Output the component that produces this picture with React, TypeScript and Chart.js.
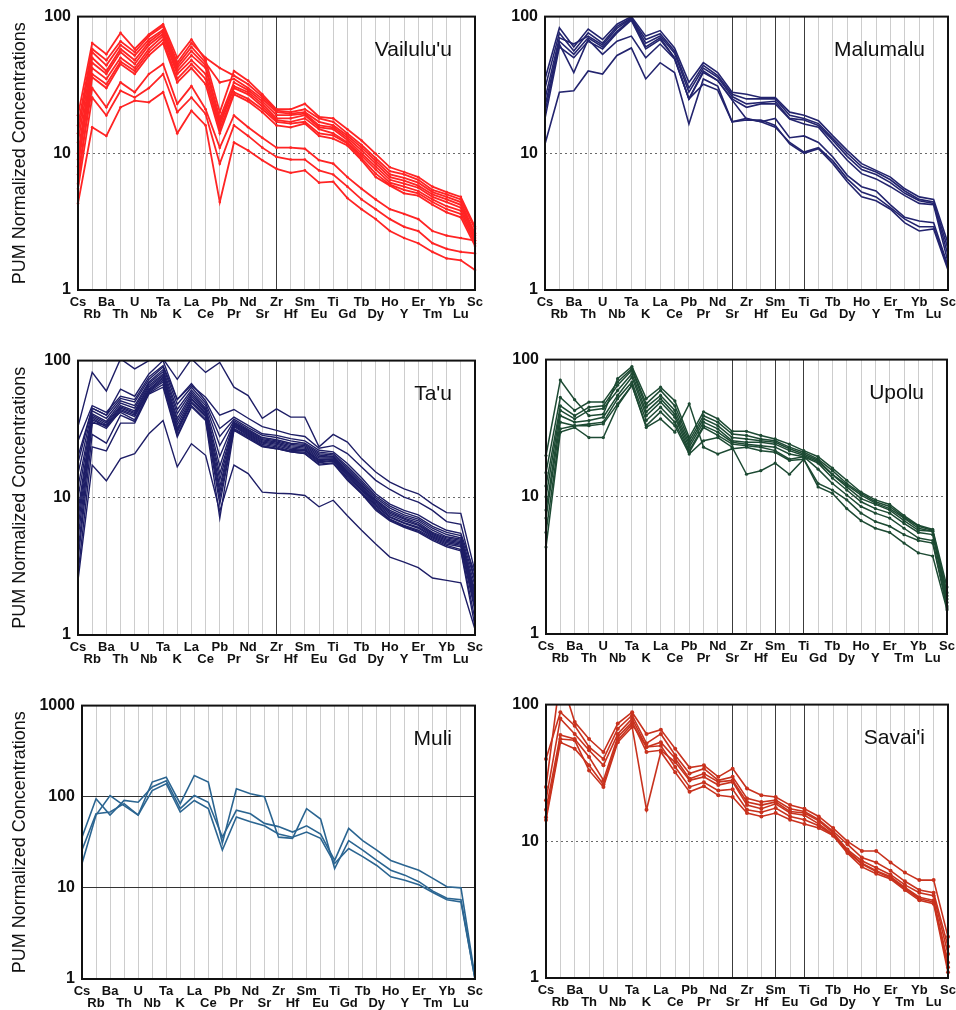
import React, { useEffect, useRef } from 'react';
import { Chart, registerables } from 'chart.js';
Chart.register(...registerables);

// ---------- categories ----------
const ELEMENTS = ['Cs','Rb','Ba','Th','U','Nb','Ta','K','La','Ce','Pb','Pr','Nd','Sr','Zr','Hf','Sm','Eu','Ti','Gd','Tb','Dy','Ho','Y','Er','Tm','Yb','Lu','Sc'];
const TICKS_100 = [1, 10, 100];
const TICKS_1000 = [1, 10, 100, 1000];
const Y_TITLE = 'PUM Normalized Concentrations';

// ---------- Vailulu'u ----------
const VAI_1 = [19, 64, 53, 76, 58, 74, 88, 50, 68, 48, 20, 40, 34, 27, 21, 21, 23, 18.5, 18, 15, 12.4, 9.9, 7.9, 7.3, 6.7, 5.7, 5.2, 4.8, 2.9];
const VAI_2 = [16, 58, 48, 66, 55, 72, 85, 46, 64, 50, 42, 37, 32, 26, 20.5, 20, 21, 18, 17, 14, 11.5, 9.2, 7.4, 7.0, 6.4, 5.4, 5.0, 4.6, 2.8];
const VAI_3 = [14, 55, 44, 62, 52, 68, 80, 44, 60, 46, 33, 35, 30, 25, 20, 19.5, 20, 17, 16, 13.5, 11, 8.8, 7.0, 6.6, 6.1, 5.2, 4.8, 4.4, 2.6];
const VAI_4 = [12, 50, 40, 58, 48, 65, 78, 42, 56, 44, 18, 33, 29, 24, 19, 19, 19.5, 16, 15.5, 13, 10.5, 8.4, 6.7, 6.3, 5.8, 5.0, 4.6, 4.2, 2.5];
const VAI_5 = [10, 46, 38, 55, 45, 62, 75, 40, 52, 42, 17, 31, 28, 23, 18, 18, 19, 15.5, 15, 12.5, 10, 8.0, 6.4, 6.0, 5.6, 4.8, 4.4, 4.0, 2.4];
const VAI_6 = [9, 42, 35, 50, 42, 58, 72, 38, 48, 38, 16, 30, 27, 22, 17.5, 17, 18, 15, 14, 12, 9.6, 7.6, 6.1, 5.7, 5.3, 4.6, 4.1, 3.8, 2.3];
const VAI_7 = [8, 38, 32, 47, 40, 55, 68, 35, 45, 35, 15, 28, 25, 21, 17, 16.5, 17, 14, 13.5, 11.8, 9.2, 7.1, 5.9, 5.4, 5.1, 4.4, 3.9, 3.6, 2.2];
const VAI_8 = [6, 36, 30, 45, 38, 52, 64, 33, 42, 32, 14, 27, 24, 20, 16, 15.5, 16.5, 13.4, 12.8, 11.4, 8.9, 6.7, 5.8, 5.1, 4.9, 4.2, 3.7, 3.4, 2.1];
const VAI_9 = [7, 30, 21.7, 33, 28, 38, 45, 23, 31, 21, 11, 18.9, 15.5, 13, 11, 11, 10.8, 8.9, 8.4, 6.7, 5.5, 4.6, 3.9, 3.6, 3.3, 2.7, 2.5, 2.4, 2.3];
const VAI_10 = [5.5, 25.6, 18.9, 28.7, 25.6, 30, 38, 20, 25.6, 19.4, 8.4, 16, 13.4, 11, 9.4, 9, 9, 7.5, 7, 5.7, 4.6, 3.9, 3.3, 2.9, 2.7, 2.2, 2.0, 1.9, 1.85];
const VAI_11 = [4.3, 15.5, 13.4, 21.7, 24.3, 23.6, 28, 14, 20.5, 16, 4.4, 12, 10.5, 8.9, 7.7, 7.2, 7.5, 6.1, 6.2, 4.7, 3.9, 3.3, 2.7, 2.4, 2.2, 1.9, 1.7, 1.65, 1.4];

// ---------- Malumalu ----------
const MAL_1 = [35, 83, 60, 81, 68, 88, 100, 72, 79, 59, 33, 46, 39, 28, 27, 25.6, 25.6, 20, 19, 17.3, 13.4, 10.5, 8.4, 7.5, 6.7, 5.5, 4.8, 4.6, 2.2];
const MAL_2 = [30, 76, 56, 76, 64, 85, 98, 68, 75, 56, 30, 44, 37, 27, 25, 25, 25, 19, 18, 16.5, 12.8, 10, 8, 7.3, 6.4, 5.3, 4.6, 4.4, 2.0];
const MAL_3 = [25, 70, 63, 72, 62, 82, 97, 64, 72, 54, 28, 42, 36, 26, 23, 23.5, 24, 18, 17.5, 16, 12.4, 9.5, 7.6, 7.0, 6.1, 5.1, 4.5, 4.3, 1.8];
const MAL_4 = [22, 66, 53, 70, 60, 78, 96, 60, 70, 50, 25, 40, 34, 25, 21.7, 23, 23, 17.8, 16.4, 15.5, 11.7, 8.9, 7.1, 6.5, 5.7, 4.9, 4.3, 4.2, 1.6];
const MAL_5 = [20, 63, 39, 68, 53, 66, 72, 50, 63, 49, 25, 39, 34, 24.5, 17.8, 17, 18, 13, 13.4, 12, 9.4, 6.9, 5.7, 5.3, 4.2, 3.4, 3.2, 3.1, 1.5];
const MAL_6 = [18, 60, 50, 66, 58, 76, 94, 58, 68, 50, 25, 32, 29, 17, 17.5, 17.5, 16, 11.7, 10, 10.8, 8.4, 6.2, 4.8, 4.5, 3.9, 3.1, 2.7, 2.8, 1.4];
const MAL_7 = [11.7, 28, 28.7, 40, 38, 52, 59, 35, 46, 39, 16.4, 35, 31, 17, 18, 17, 15.5, 12, 10.2, 11, 8.8, 6.5, 5.2, 4.8, 4.0, 3.3, 2.9, 2.9, 1.45];

// ---------- Ta'u ----------
const TAU_1 = [26, 47, 42, 55, 52, 76, 92, 52, 68, 51, 32, 38.7, 33.7, 29.3, 28.5, 27, 26, 22.2, 21.6, 17.8, 14, 10.7, 9, 8.1, 7.5, 6.5, 5.8, 5.5, 2.8];
const TAU_2 = [20, 45, 40, 53, 50, 73, 90, 48, 64, 49, 28, 37.5, 32.5, 28.5, 27.5, 26, 25, 21.5, 21, 17, 13.4, 10.3, 8.7, 7.8, 7.2, 6.2, 5.6, 5.3, 2.5];
const TAU_3 = [15, 43, 38, 51, 47, 70, 86, 44, 61, 47, 24, 36.5, 31.5, 27.5, 26.5, 25, 24.5, 21, 20.5, 16.5, 13, 10, 8.4, 7.5, 7, 6.0, 5.4, 5.1, 2.3];
const TAU_4 = [12, 41, 36, 49, 45, 68, 83, 41, 59, 45, 20, 35.5, 31, 27, 26, 24.5, 24, 20.5, 20, 16, 12.6, 9.7, 8.1, 7.3, 6.8, 5.8, 5.2, 5.0, 2.1];
const TAU_5 = [10, 40, 35, 47, 43, 66, 80, 38, 57, 44, 17, 35, 30.5, 26.5, 25.5, 24, 23.5, 20, 19.8, 15.6, 12.3, 9.5, 7.9, 7.1, 6.6, 5.6, 5.1, 4.9, 2.0];
const TAU_6 = [8, 39, 34, 46, 42, 64, 78, 36, 55, 43, 15, 34.5, 30, 26, 25, 23.5, 23, 19.5, 19.5, 15.3, 12, 9.3, 7.7, 7.0, 6.4, 5.5, 5.0, 4.8, 1.9];
const TAU_7 = [7, 38, 33, 45, 41, 62, 76, 34, 53, 42, 13.5, 34, 29.5, 25.5, 24.5, 23, 22.5, 19, 19.2, 15, 11.8, 9.1, 7.5, 6.8, 6.3, 5.4, 4.9, 4.7, 1.8];
const TAU_8 = [6, 37, 33, 44, 40, 61, 74, 32, 52, 41, 12, 33.5, 29, 25, 24, 22.5, 22.2, 18.7, 19, 14.7, 11.5, 8.9, 7.3, 6.6, 6.1, 5.3, 4.8, 4.6, 1.7];
const TAU_9 = [5, 36, 32, 43, 39, 60, 72, 31, 50, 40, 11, 33, 28.5, 24.5, 23.5, 22, 22, 18.3, 18.7, 14.4, 11.3, 8.7, 7.2, 6.5, 6.0, 5.2, 4.7, 4.5, 1.6];
const TAU_10 = [4, 35, 34, 42, 37, 59, 70, 30, 49, 39, 10, 32, 28, 24, 23, 21.8, 21.5, 18, 18.5, 14, 11, 8.5, 7.0, 6.3, 5.8, 5.1, 4.6, 4.4, 1.5];
const TAU_11 = [3.5, 29, 25, 40, 36, 58, 67, 28.5, 47, 37.5, 9, 31.5, 27.5, 23.8, 22.8, 21.6, 21, 17.6, 18, 13.7, 10.8, 8.3, 6.9, 6.2, 5.7, 5.0, 4.5, 4.2, 1.3];
const TAU_12 = [2.8, 23.5, 22, 35, 35, 57, 64, 27.7, 46, 36.6, 7.1, 31, 27, 23.5, 22.8, 21.6, 21, 17.3, 17.8, 13.4, 10.7, 8.1, 6.8, 6.1, 5.6, 4.9, 4.4, 4.1, 1.15];
const TAU_13 = [33, 82, 60, 103, 87, 100, 103, 73, 103, 82, 97, 64, 55.6, 38, 44.5, 38.7, 38.7, 23.5, 29, 25.5, 19.3, 15.4, 13, 11.6, 10.7, 9, 7.8, 7.7, 2.9];
const TAU_14 = [18, 45, 40, 62, 55, 80, 100, 52, 66, 54, 40, 44, 38, 33, 31, 29, 28, 23, 24, 21, 16.8, 13.4, 11.5, 10.1, 9.3, 8.1, 6.7, 6.4, 2.5];
const TAU_15 = [2.5, 17.3, 13.3, 19.3, 21, 29.3, 36.6, 16.8, 24.8, 20.4, 8, 17.3, 15, 11, 10.8, 10.7, 10.4, 8.6, 9.6, 7.4, 5.8, 4.6, 3.7, 3.4, 3.1, 2.6, 2.5, 2.4, 1.1];

// ---------- Upolu ----------
const UPO_1 = [20, 71, 51, 39, 40, 72.6, 89, 52, 63, 50, 27, 41.6, 37, 30, 30, 28, 26.4, 24.2, 21.7, 19.6, 16.2, 13.2, 10.8, 9.5, 8.8, 7.3, 6.2, 5.8, 2.2];
const UPO_2 = [15, 53, 42.6, 49, 49, 68.6, 86, 47.6, 59.6, 46, 25.6, 39, 35, 28.7, 28, 26.4, 25.6, 23, 21.1, 18.8, 15.5, 12.5, 10.6, 9.2, 8.5, 7.1, 6.1, 5.7, 2.0];
const UPO_3 = [12, 46, 39, 45, 46, 65, 83.6, 45, 54.8, 42.6, 24.2, 37, 33, 27, 26.4, 25.6, 25, 22.4, 20.5, 18.4, 14.6, 12.2, 10.3, 9.0, 8.2, 7.0, 5.9, 5.6, 1.9];
const UPO_4 = [10, 42.6, 37, 42.6, 44, 59.6, 79, 41.6, 51.9, 40, 23, 35, 31.3, 25.6, 25, 25, 24.2, 21.7, 20, 18, 14.5, 11.8, 9.7, 8.8, 8.0, 6.7, 5.7, 5.6, 1.8];
const UPO_5 = [8, 39, 35, 36, 38, 54.8, 74.7, 39, 49, 38, 21.7, 33, 29.6, 25, 24.2, 23.6, 23, 20.5, 19.6, 17.6, 13.7, 11.2, 9.2, 8.2, 7.6, 6.4, 5.5, 5.3, 1.7];
const UPO_6 = [7, 35, 33, 34, 35, 51.9, 68.6, 36, 45, 35, 21.1, 32, 28, 24.2, 23.6, 23, 21.7, 18.8, 19.6, 15.9, 12.5, 10.3, 8.5, 7.6, 7.0, 5.9, 5.0, 4.8, 1.6];
const UPO_7 = [5.5, 31.3, 33, 33, 34, 47.6, 65, 33, 41.6, 33, 20.5, 25.6, 27, 23, 14.6, 15.5, 17.6, 14.6, 18.8, 12.5, 11.2, 9.5, 7.6, 6.6, 6.1, 5.3, 4.8, 4.6, 1.55];
const UPO_8 = [4.3, 29.6, 32, 27, 27, 46, 65, 32, 37, 29.6, 47.6, 23, 20.5, 22.4, 23, 21.7, 21.1, 18.4, 18.8, 11.8, 10.6, 8.2, 6.7, 5.9, 5.5, 4.6, 3.9, 3.7, 1.5];

// ---------- Muli ----------
const MUL_1 = [26, 65, 68, 84, 63, 145, 164, 84, 171, 145, 31, 122, 108, 100, 36, 35, 74, 57, 16.3, 33, 26, 20, 15.6, 13.8, 11.7, 9.2, 7.7, 7.4, 1.0];
const MUL_2 = [36, 95, 63, 91, 87, 128, 150, 74, 103, 87, 36, 71, 65, 51, 47, 41, 48, 39, 20, 45, 33, 26, 20, 17.6, 15.6, 12.7, 10.3, 10, 1.05];
const MUL_3 = [18.5, 63, 103, 80, 63, 117, 139, 68, 91, 74, 26, 60, 53, 48, 39, 36, 41, 35, 18.5, 27, 22, 17.6, 13.2, 12.1, 10.8, 8.9, 7.4, 7.0, 1.0];

// ---------- Savai'i ----------
const SAV_1 = [25, 160, 74.6, 56, 45, 72.6, 88, 61, 65.6, 47.6, 34.6, 36, 29.6, 34, 24.3, 21.7, 21.1, 18.4, 17.3, 15.2, 12.5, 10, 8.5, 8.5, 7.0, 5.9, 5.2, 5.2, 2.0];
const SAV_2 = [40, 88, 70, 49, 40, 66.7, 83.6, 52, 61, 42.6, 31.3, 34, 27.9, 29.6, 20.6, 19.4, 20, 17.3, 16.5, 14.4, 11.8, 9.5, 7.6, 7.0, 6.1, 5.1, 4.4, 4.2, 1.7];
const SAV_3 = [20, 79, 61, 46.3, 36, 61, 79, 49, 53, 40.3, 28.7, 31.3, 27.2, 27.9, 19.4, 18.4, 19.4, 16.5, 16.1, 14.1, 11.5, 8.7, 7.2, 6.4, 5.7, 4.8, 4.2, 4.0, 1.5];
const SAV_4 = [17, 60, 56, 41.4, 28, 58, 74.6, 45, 46.3, 38, 27.9, 29.6, 25.8, 27.2, 18.4, 17.3, 18.8, 16.1, 15.5, 13.4, 11.2, 8.5, 6.9, 6.1, 5.5, 4.6, 3.9, 3.7, 1.3];
const SAV_5 = [15, 56, 54.8, 33, 25, 53, 68.6, 17, 45, 32, 23, 25.3, 21.7, 21.1, 16.1, 15.2, 16.1, 14.4, 13.4, 12.5, 11.0, 8.2, 6.5, 5.8, 5.3, 4.4, 3.7, 3.5, 1.1];
const SAV_6 = [14.3, 53, 47.6, 36, 26, 55, 72, 49, 50, 35, 25, 27, 23.5, 24, 17, 16.3, 17.5, 15.2, 14.4, 13, 11.1, 8.4, 6.8, 6.0, 5.4, 4.5, 3.8, 3.6, 1.2];

// ---------- panel layout / style ----------
type PanelCfg = {
  name: string; series: number[][]; ticks: number[]; max: number;
  x: number; y: number; w: number; h: number; yW: number; padR: number;
  color: string; lw: number; pr: number; dark: number[]; showTitle: boolean; solidY: boolean;
};

const FONT = '"Liberation Sans", Arial, Helvetica, sans-serif';

const PANELS: PanelCfg[] = [
  { name: "Vailulu'u", series: [VAI_1, VAI_2, VAI_3, VAI_4, VAI_5, VAI_6, VAI_7, VAI_8, VAI_9, VAI_10, VAI_11], ticks: TICKS_100, max: 100,
    x: 0, y: 0, w: 485, h: 330, yW: 78, padR: 10, color: '#ff2424', lw: 1.8, pr: 1.3, dark: [14], showTitle: true, solidY: false },
  { name: 'Malumalu', series: [MAL_1, MAL_2, MAL_3, MAL_4, MAL_5, MAL_6, MAL_7], ticks: TICKS_100, max: 100,
    x: 478, y: 0, w: 478, h: 330, yW: 67, padR: 8, color: '#23246e', lw: 1.6, pr: 0, dark: [13, 16, 18], showTitle: false, solidY: false },
  { name: "Ta'u", series: [TAU_1, TAU_2, TAU_3, TAU_4, TAU_5, TAU_6, TAU_7, TAU_8, TAU_9, TAU_10, TAU_11, TAU_12, TAU_13, TAU_14, TAU_15], ticks: TICKS_100, max: 100,
    x: 0, y: 344, w: 485, h: 331, yW: 78, padR: 10, color: '#1e1e66', lw: 1.4, pr: 0, dark: [14], showTitle: true, solidY: false },
  { name: 'Upolu', series: [UPO_1, UPO_2, UPO_3, UPO_4, UPO_5, UPO_6, UPO_7, UPO_8], ticks: TICKS_100, max: 100,
    x: 478, y: 343, w: 478, h: 331, yW: 68, padR: 9, color: '#1d4a33', lw: 1.5, pr: 1.6, dark: [13, 16, 18], showTitle: false, solidY: false },
  { name: 'Muli', series: [MUL_1, MUL_2, MUL_3], ticks: TICKS_1000, max: 1000,
    x: 0, y: 689, w: 485, h: 330, yW: 82, padR: 10, color: '#2b6591', lw: 1.6, pr: 0, dark: [], showTitle: true, solidY: true },
  { name: "Savai'i", series: [SAV_1, SAV_2, SAV_3, SAV_4, SAV_5, SAV_6], ticks: TICKS_100, max: 100,
    x: 478, y: 688, w: 478, h: 330, yW: 68, padR: 8, color: '#c8321e', lw: 1.6, pr: 2, dark: [13, 16, 18], showTitle: false, solidY: false },
];

function Panel({ p }: { p: PanelCfg }) {
  const ref = useRef<HTMLCanvasElement>(null);
  useEffect(() => {
    const labels = ELEMENTS.map((e, i) => (i % 2 === 0 ? [e, ''] : ['', e]));
    const overlay = {
      id: 'overlay',
      afterDraw(chart: any) {
        const { ctx, chartArea: a } = chart;
        ctx.save();
        ctx.strokeStyle = '#111';
        ctx.lineWidth = 2;
        ctx.strokeRect(a.left, a.top, a.right - a.left, a.bottom - a.top);
        ctx.fillStyle = '#111';
        ctx.font = `21px ${FONT}`;
        ctx.textAlign = 'right';
        ctx.textBaseline = 'middle';
        ctx.fillText(p.name, a.right - 23, a.top + 34);
        ctx.restore();
      },
    };
    const chart = new Chart(ref.current as HTMLCanvasElement, {
      type: 'line',
      data: {
        labels,
        datasets: p.series.map((s) => ({
          data: s,
          borderColor: p.color,
          backgroundColor: p.color,
          pointBackgroundColor: p.color,
          pointBorderColor: p.color,
          borderWidth: p.lw,
          pointRadius: p.pr,
          pointBorderWidth: 0,
          tension: 0,
          fill: false,
        })),
      },
      options: {
        responsive: false,
        animation: false,
        devicePixelRatio: 1,
        events: [],
        layout: { padding: { top: 16, right: p.padR, left: 0, bottom: 0 } },
        plugins: { legend: { display: false }, tooltip: { enabled: false } },
        scales: {
          x: {
            type: 'category',
            offset: false,
            grid: {
              color: (c: any) => (p.dark.includes(c.index) ? '#3c3c3c' : '#cdcdcd'),
              lineWidth: 1,
              drawTicks: false,
            },
            border: { display: false },
            ticks: {
              autoSkip: false, maxRotation: 0, minRotation: 0, padding: 6, color: '#111',
              font: { family: FONT, size: 13, weight: 'bold', lineHeight: 0.97 },
            },
            afterFit: (s: any) => { s.height = 40; s.paddingLeft = 0; s.paddingRight = 0; },
          },
          y: {
            type: 'logarithmic',
            min: 1,
            max: p.max,
            afterBuildTicks: (s: any) => { s.ticks = p.ticks.map((v) => ({ value: v })); },
            ticks: {
              callback: (v: any) => String(v),
              padding: 7,
              color: '#111',
              font: { family: FONT, size: 16, weight: 'bold' },
            },
            grid: {
              color: p.solidY ? '#333' : '#6a6a6a',
              lineWidth: 1,
              drawTicks: false,
            },
            border: { display: false, dash: p.solidY ? [] : [2, 3] },
            title: {
              display: p.showTitle,
              text: Y_TITLE,
              color: '#111',
              font: { family: FONT, size: 18 },
              padding: { top: 9, bottom: 0 },
            },
            afterFit: (s: any) => { s.width = p.yW; },
          },
        },
      },
      plugins: [overlay],
    } as any);
    return () => chart.destroy();
  }, []);
  return (
    <canvas
      ref={ref}
      width={p.w}
      height={p.h}
      style={{ position: 'absolute', left: p.x, top: p.y, width: p.w, height: p.h }}
    />
  );
}

export default function App() {
  return (
    <div style={{ position: 'absolute', left: 0, top: 0, width: 956, height: 1010, overflow: 'hidden', background: '#fff' }}>
      {PANELS.map((p) => (
        <Panel key={p.name} p={p} />
      ))}
    </div>
  );
}
